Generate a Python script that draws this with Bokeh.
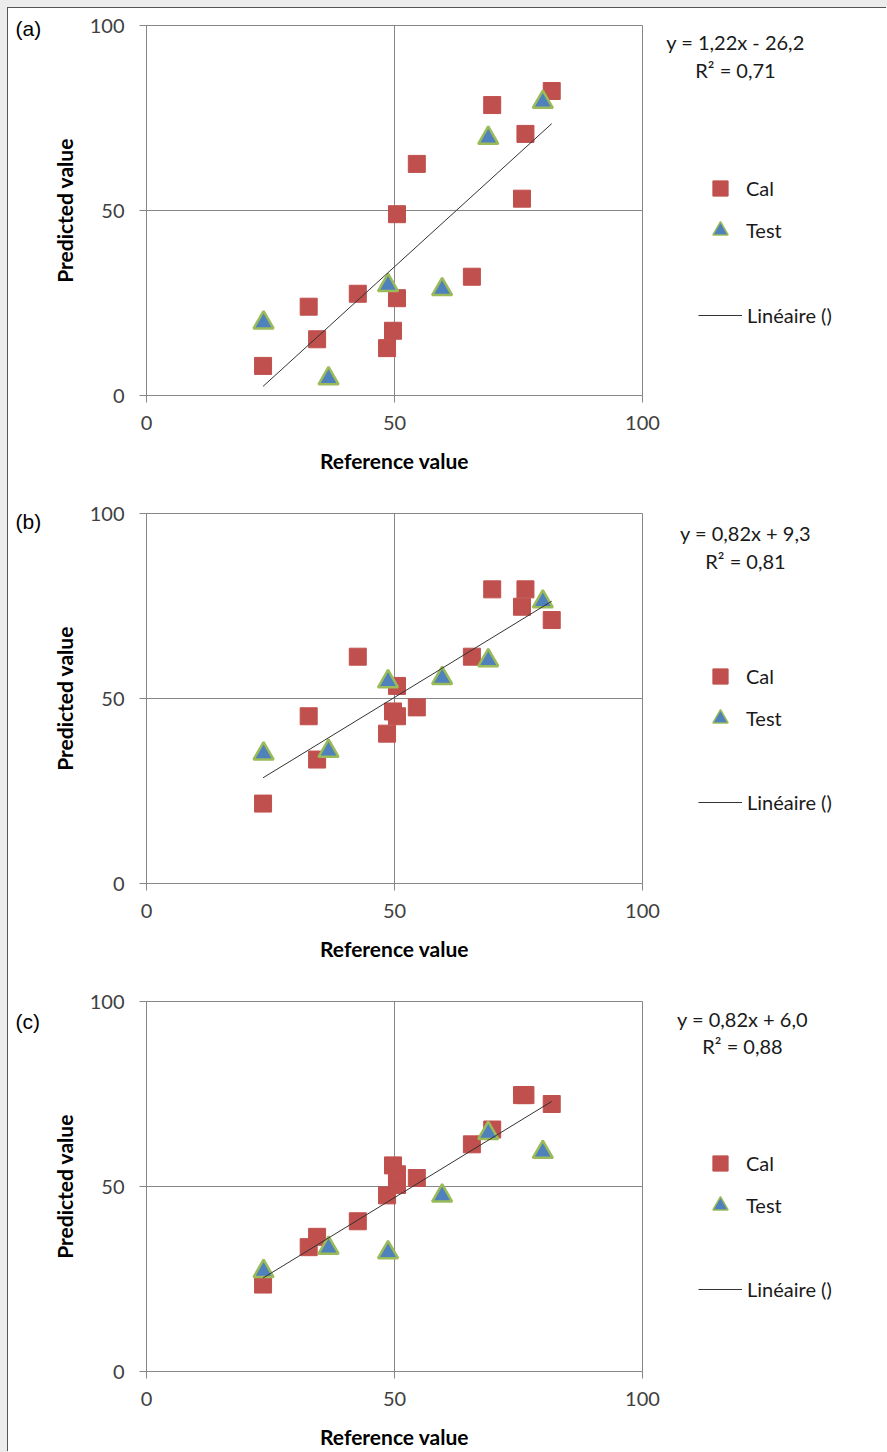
from bokeh.plotting import figure
from bokeh.models import Range1d, FixedTicker, Label, Legend, LegendItem, GlobalInlineStyleSheet
from bokeh.layouts import column, row
from bokeh.embed import file_html
from bokeh.resources import INLINE

# ---------------- data ----------------
panel_tags = ["(a)", "(b)", "(c)"]
axis_ticks = [0, 50, 100]
x_title = "Reference value"
y_title = "Predicted value"
series_names = ["Cal", "Test"]
trend_name = "Linéaire ()"

cal_ref = [23.5, 32.7, 34.4, 42.6, 48.5, 49.7, 50.5, 50.5, 54.5, 65.6, 69.7, 75.7, 76.4, 81.7]
test_ref = [23.6, 36.7, 48.7, 59.6, 68.9, 79.9]

cal_pred_a = [8.0, 24.0, 15.2, 27.5, 12.8, 17.5, 26.3, 49.0, 62.6, 32.1, 78.5, 53.2, 70.7, 82.3]
cal_pred_b = [21.6, 45.2, 33.5, 61.3, 40.5, 46.5, 45.2, 53.4, 47.6, 61.3, 79.5, 74.8, 79.5, 71.2]
cal_pred_c = [23.5, 33.6, 36.4, 40.6, 47.6, 55.7, 50.4, 53.3, 52.3, 61.4, 65.4, 74.7, 74.7, 72.3]

test_pred_a = [19.7, 4.6, 29.8, 28.7, 69.6, 79.3]
test_pred_b = [35.1, 35.8, 54.6, 55.5, 60.3, 76.2]
test_pred_c = [27.1, 33.4, 32.2, 47.5, 64.4, 59.3]

slopes = [1.22, 0.82, 0.82]
intercepts = [-26.2, 9.3, 6.0]
eq_texts = ["y = 1,22x - 26,2", "y = 0,82x + 9,3", "y = 0,82x + 6,0"]
r2_texts = ["R² = 0,71", "R² = 0,81", "R² = 0,88"]

cal_preds = [cal_pred_a, cal_pred_b, cal_pred_c]
test_preds = [test_pred_a, test_pred_b, test_pred_c]

# ---------------- layout / style ----------------
heights = [488, 488, 468]
LEFT, RIGHT, TOP, FRAME_W, FRAME_H = 97, 19, 17, 497, 370
TAG_W = 40
MAIN_W = LEFT + FRAME_W + RIGHT
SIDE_W = 879 - TAG_W - MAIN_W
FRAME_BOTTOM = TOP + FRAME_H          # local pixel row of the frame bottom
# positions (pixels from panel top / side-panel left) of annotation items
eq_cx = [74, 84, 81]
eq_y1 = [33, 36, 34]
eq_y2 = [61, 64, 61]
tag_y = [20, 25, 37]
leg_top = [161, 161, 160]
line_cy = [307, 306, 305]
LEG1_X, LEG2_X = 40, 37

FONT = "Lato"
GRID = "#868686"
CAL_COLOR = "#C0504D"
TEST_FILL = "#4F81BD"
TEST_LINE = "#9BBB59"
TXT = "#1a1a1a"
NAN = float("nan")


def blank_fig(w, h, top, bottom):
    f = figure(width=w, height=h, x_range=Range1d(0, 1), y_range=Range1d(0, 1),
               output_backend="svg", toolbar_location=None,
               x_axis_location=None, y_axis_location=None,
               min_border_left=0, min_border_right=0,
               min_border_top=top, min_border_bottom=bottom)
    f.outline_line_color = None
    f.background_fill_color = "white"
    f.border_fill_color = "white"
    f.grid.visible = False
    return f


def make_main(i):
    h = heights[i]
    p = figure(width=MAIN_W, height=h, x_range=Range1d(0, 100), y_range=Range1d(0, 100),
               output_backend="svg", toolbar_location=None,
               min_border_left=LEFT, min_border_right=RIGHT,
               min_border_top=TOP, min_border_bottom=h - FRAME_BOTTOM)
    p.background_fill_color = "white"
    p.border_fill_color = "white"
    p.outline_line_color = GRID
    p.outline_line_width = 1

    for ax in (p.xaxis, p.yaxis):
        ax.ticker = FixedTicker(ticks=axis_ticks)
        ax.axis_line_color = GRID
        ax.major_tick_line_color = GRID
        ax.major_tick_in = 0
        ax.major_tick_out = 7
        ax.minor_tick_line_color = None
        ax.major_label_text_font = FONT
        ax.major_label_text_font_size = "20px"
        ax.major_label_text_color = "#404040"
        ax.axis_label_text_font = FONT
        ax.axis_label_text_font_style = "bold"
        ax.axis_label_text_font_size = "21px"
        ax.axis_label_text_color = "#000000"
    p.xaxis.axis_label = x_title
    p.yaxis.axis_label = y_title
    p.xaxis.major_label_standoff = 13
    p.xaxis.axis_label_standoff = 15
    p.yaxis.major_label_standoff = 15
    p.yaxis.axis_label_standoff = 10

    p.grid.grid_line_color = GRID
    p.grid.grid_line_width = 1

    p.scatter(cal_ref, cal_preds[i], marker="square", size=17,
              fill_color=CAL_COLOR, line_color=CAL_COLOR, line_width=1)
    p.scatter(test_ref, test_preds[i], marker="triangle", size=20,
              fill_color=TEST_FILL, line_color=TEST_LINE, line_width=2.5)
    all_x = cal_ref + test_ref
    xl = [min(all_x), max(all_x)]
    yl = [slopes[i] * v + intercepts[i] for v in xl]
    p.line(xl, yl, line_color="#333333", line_width=1)
    return p


def make_side(i):
    h = heights[i]
    s = blank_fig(SIDE_W, h, TOP, h - FRAME_BOTTOM)
    # style-only stand-ins for the legend swatches (no visible data)
    cal_d = s.scatter(x=[NAN], y=[NAN], marker="square", fill_color=CAL_COLOR, line_color=CAL_COLOR)
    test_d = s.scatter(x=[NAN], y=[NAN], marker="triangle", fill_color=TEST_FILL,
                       line_color=TEST_LINE, line_width=1.5)
    line_d = s.line(x=[NAN, NAN], y=[NAN, NAN], line_color="#333333", line_width=1)

    item_h, gap = 38, 4
    leg1_bottom = leg_top[i] + 2 * item_h + gap
    leg1 = Legend(items=[LegendItem(label=series_names[0], renderers=[cal_d]),
                         LegendItem(label=series_names[1], renderers=[test_d])],
                  location=(LEG1_X, FRAME_BOTTOM - leg1_bottom), orientation="vertical",
                  glyph_width=item_h, glyph_height=item_h, label_height=item_h, spacing=gap,
                  label_standoff=7, padding=0, margin=0,
                  border_line_alpha=0, background_fill_alpha=0,
                  label_text_font=FONT, label_text_font_size="20px",
                  label_text_color=TXT)
    lh = 24
    leg2 = Legend(items=[LegendItem(label=trend_name, renderers=[line_d])],
                  location=(LEG2_X, FRAME_BOTTOM - (line_cy[i] + lh // 2)), orientation="vertical",
                  glyph_width=44, glyph_height=lh, label_height=lh, spacing=0,
                  label_standoff=5, padding=0, margin=0,
                  border_line_alpha=0, background_fill_alpha=0,
                  label_text_font=FONT, label_text_font_size="20px",
                  label_text_color=TXT)
    s.add_layout(leg1)
    s.add_layout(leg2)

    for txt, yy in ((eq_texts[i], eq_y1[i]), (r2_texts[i], eq_y2[i])):
        s.add_layout(Label(x=eq_cx[i], y=FRAME_BOTTOM - yy, x_units="screen", y_units="screen",
                           text=txt, text_font=FONT, text_font_size="20px", text_color=TXT,
                           text_align="center", text_baseline="middle"))
    return s


def make_tag(i):
    h = heights[i]
    t = blank_fig(TAG_W, h, 0, 0)
    t.add_layout(Label(x=7, y=h - tag_y[i], x_units="screen", y_units="screen",
                       text=panel_tags[i], text_font="Liberation Sans", text_font_size="21px",
                       text_color="#000000", text_align="left", text_baseline="middle"))
    return t


rows = [row(column(make_tag(i)), make_main(i), make_side(i), spacing=0) for i in range(3)]
layout = column(*rows, spacing=0,
                styles={"margin-left": "8px", "margin-top": "8px",
                        "background-color": "white", "box-shadow": "-1px -1px 0 #555555"},
                stylesheets=[GlobalInlineStyleSheet(css="body { background-color: #ececec; margin: 0; }")])

open("out.html", "w").write(file_html(layout, INLINE))
